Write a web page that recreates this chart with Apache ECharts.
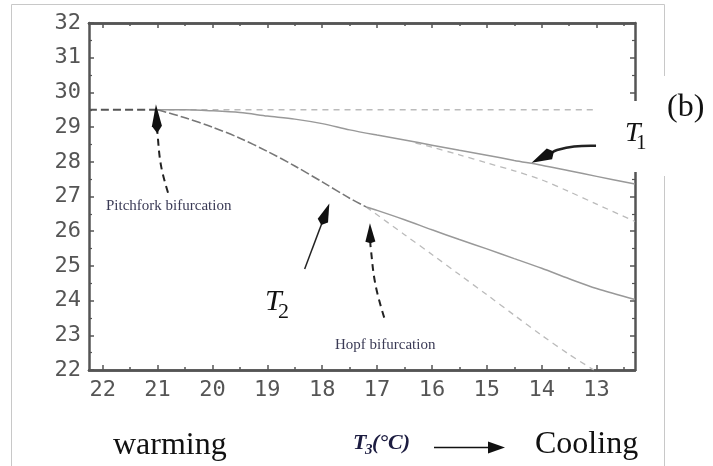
<!DOCTYPE html>
<html>
<head>
<meta charset="utf-8">
<script src="https://cdn.jsdelivr.net/npm/echarts@6/dist/echarts.min.js"></script>
<style>
html, body { margin: 0; padding: 0; background: #fff; }
#main { width: 713px; height: 466px; }
</style>
</head>
<body>
<div id="main"></div>
<script>
// axis ranges and ticks
var xMin = 12.3, xMax = 22.25;
var yMin = 22, yMax = 32;
var xTicks = [13, 14, 15, 16, 17, 18, 19, 20, 21, 22];
var xMinorTicks = [12.5, 13.5, 14.5, 15.5, 16.5, 17.5, 18.5, 19.5, 20.5, 21.5];

// curves, [T3, T]
var stableBranch = [[22.25, 29.5], [21, 29.5]];
var unstableFlat = [[21, 29.5], [13, 29.5]];
var t1 = [[21, 29.5], [20.5, 29.5], [20, 29.47], [19.5, 29.42], [19, 29.32], [18.5, 29.23],
  [18, 29.1], [17.5, 28.92], [17, 28.77], [16.5, 28.63], [16, 28.48], [15.5, 28.33],
  [15, 28.19], [14.5, 28.04], [14, 27.9], [13.5, 27.74], [13, 27.58], [12.3, 27.36]];
var t1Unstable = [[16.3, 28.54], [16, 28.42], [15.5, 28.2], [15, 27.97], [14.5, 27.74],
  [14, 27.48], [13.5, 27.14], [13, 26.78], [12.3, 26.28]];
var t2Before = [[21, 29.5], [20.5, 29.27], [20, 29.0], [19.5, 28.68], [19, 28.3],
  [18.5, 27.88], [18, 27.42], [17.5, 26.95], [17.2, 26.7]];
var t2 = [[17.2, 26.7], [17, 26.6], [16.5, 26.33], [16, 26.04], [15.5, 25.76], [15, 25.49],
  [14.5, 25.21], [14, 24.93], [13.5, 24.63], [13, 24.35], [12.3, 24.03]];
var hopfUnstable = [[17.2, 26.7], [16.5, 25.9], [16, 25.33], [15.5, 24.75], [15, 24.17],
  [14.5, 23.58], [14, 23.0], [13.5, 22.45], [13.05, 22.0]];

// annotation arrows (data coords)
var pitchforkArrow = [[20.81, 27.11], [20.94, 27.91], [21.01, 28.95], [21.03, 29.66]];
var hopfArrow = [[16.87, 23.51], [17.03, 24.46], [17.12, 25.58], [17.13, 26.23]];
var t2Arrow = [[18.32, 24.91], [17.87, 26.80]];
var t1Arrow = [[13.01, 28.46], [13.41, 28.44], [13.72, 28.34], [14.185, 27.97]];

var axisColor = '#555';
var tickFont = { color: '#555', fontFamily: 'DejaVu Sans Mono', fontSize: 22 };

function xAxisCfg(pos, values, len, labels) {
  return {
    type: 'value', position: pos, inverse: true, min: xMin, max: xMax,
    axisLine: { show: true, onZero: false, lineStyle: { color: axisColor, width: 2.5 } },
    axisTick: { show: true, inside: true, length: len, customValues: values,
      lineStyle: { color: axisColor, width: 1.5 } },
    axisLabel: labels ? Object.assign({ customValues: values, margin: 9 }, tickFont) : { show: false },
    splitLine: { show: false }
  };
}
function yAxisCfg(pos, labels) {
  return {
    type: 'value', position: pos, min: yMin, max: yMax, interval: 1,
    axisLine: { show: true, onZero: false, lineStyle: { color: axisColor, width: 2.5 } },
    axisTick: { show: true, inside: true, length: 5, lineStyle: { color: axisColor, width: 1.5 } },
    minorTick: { show: true, splitNumber: 2, length: 3, lineStyle: { color: axisColor, width: 1.2 } },
    axisLabel: labels ? Object.assign({ margin: 8 }, tickFont) : { show: false },
    splitLine: { show: false }
  };
}
function curve(data, color, width, dash) {
  return {
    type: 'line', data: data, showSymbol: false, smooth: 0.3, silent: true,
    lineStyle: { color: color, width: width, type: dash || 'solid' }
  };
}

var chart = echarts.init(document.getElementById('main'));
chart.setOption({
  animation: false,
  backgroundColor: '#fff',
  grid: { left: 89, top: 23, right: 78, bottom: 96 },
  xAxis: [
    xAxisCfg('bottom', xTicks, 5, true),
    xAxisCfg('bottom', xMinorTicks, 3, false),
    xAxisCfg('top', xTicks, 5, false),
    xAxisCfg('top', xMinorTicks, 3, false)
  ],
  yAxis: [yAxisCfg('left', true), yAxisCfg('right', false)],
  series: [
    curve(unstableFlat, '#bbb', 1.3, [6, 5]),
    curve(t1Unstable, '#bbb', 1.3, [6, 5]),
    curve(hopfUnstable, '#bbb', 1.3, [6, 5]),
    curve(t1, '#999', 1.5),
    curve(t2, '#999', 1.5),
    curve(t2Before, '#777', 1.6, [9, 3]),
    curve(stableBranch, '#555', 1.8, [8, 4])
  ]
});

function px(p) { return chart.convertToPixel({ xAxisIndex: 0, yAxisIndex: 0 }, p); }

function head(tip, back, len, half, wingAt) {
  var dx = tip[0] - back[0], dy = tip[1] - back[1];
  var d = Math.sqrt(dx * dx + dy * dy), ux = dx / d, uy = dy / d;
  var wx = tip[0] - ux * len * wingAt, wy = tip[1] - uy * len * wingAt;
  return {
    type: 'polygon', z: 120,
    shape: { points: [tip, [wx - uy * half, wy + ux * half],
      [tip[0] - ux * len, tip[1] - uy * len], [wx + uy * half, wy - ux * half]] },
    style: { fill: '#111' }
  };
}
function shaft(pts, width, dash, trim) {
  var p = pts.map(px);
  // stop the shaft short of the tip
  var t = p[p.length - 1], b = p[p.length - 2];
  var dx = t[0] - b[0], dy = t[1] - b[1], d = Math.sqrt(dx * dx + dy * dy);
  p[p.length - 1] = [t[0] - dx / d * trim, t[1] - dy / d * trim];
  return {
    type: 'polyline', z: 115, shape: { points: p, smooth: 0.4 },
    style: { stroke: '#222', lineWidth: width, lineDash: dash || null, fill: null }
  };
}
function arrow(pts, width, dash, len, half, wingAt) {
  var tip = px(pts[pts.length - 1]), back = px(pts[pts.length - 2]);
  return [shaft(pts, width, dash, len * 0.9), head(tip, back, len, half, wingAt)];
}
function txt(x, y, s, font, fill, align) {
  return {
    type: 'text', x: x, y: y, z: 130,
    style: { text: s, font: font, fill: fill || '#111', align: align || 'left', verticalAlign: 'middle' }
  };
}

var serif = '"Liberation Serif", "Times New Roman", serif';
var g = [];
// frame of the original figure
g.push({ type: 'rect', z: 90, shape: { x: 11.5, y: 4.5, width: 653, height: 500 },
  style: { fill: null, stroke: '#c8c8c8', lineWidth: 1 } });
// label boxes that cut the frame
g.push({ type: 'rect', z: 100, shape: { x: 598, y: 101, width: 60, height: 71 }, style: { fill: '#fff' } });
g.push({ type: 'rect', z: 100, shape: { x: 655, y: 76, width: 58, height: 100 }, style: { fill: '#fff' } });

g = g.concat(arrow(pitchforkArrow, 2, [7, 5], 29, 5, 0.75));
g = g.concat(arrow(hopfArrow, 2, [7, 5], 20, 5, 0.92));
g = g.concat(arrow(t2Arrow, 1.5, null, 23, 5.5, 0.8));
g = g.concat(arrow(t1Arrow, 2.5, null, 25, 6, 0.8));

g.push(txt(106, 206, 'Pitchfork bifurcation', '15px ' + serif, '#3a3a55'));
g.push(txt(335, 345, 'Hopf bifurcation', '15px ' + serif, '#3a3a55'));
g.push(txt(265, 302, 'T', 'italic 30px ' + serif));
g.push(txt(278, 312, '2', '22px ' + serif));
g.push(txt(625, 134, 'T', 'italic 28px ' + serif));
g.push(txt(636, 143, '1', '21px ' + serif));
g.push(txt(667, 108, '(b)', '32px ' + serif));
g.push(txt(113, 446, 'warming', '32px ' + serif));
g.push(txt(535, 445, 'Cooling', '32px ' + serif));
g.push(txt(353, 443, 'T', 'italic bold 22px ' + serif, '#1c1c40'));
g.push(txt(365, 450, '3', 'italic bold 15px ' + serif, '#1c1c40'));
g.push(txt(372, 443, '(°C)', 'italic bold 22px ' + serif, '#1c1c40'));
g.push({ type: 'line', z: 120, shape: { x1: 434, y1: 447.5, x2: 492, y2: 447.5 },
  style: { stroke: '#111', lineWidth: 1.5 } });
g.push({ type: 'polygon', z: 120, shape: { points: [[488, 441.5], [505, 447.5], [488, 453.5]] },
  style: { fill: '#111' } });

chart.setOption({ graphic: g });
</script>
</body>
</html>
